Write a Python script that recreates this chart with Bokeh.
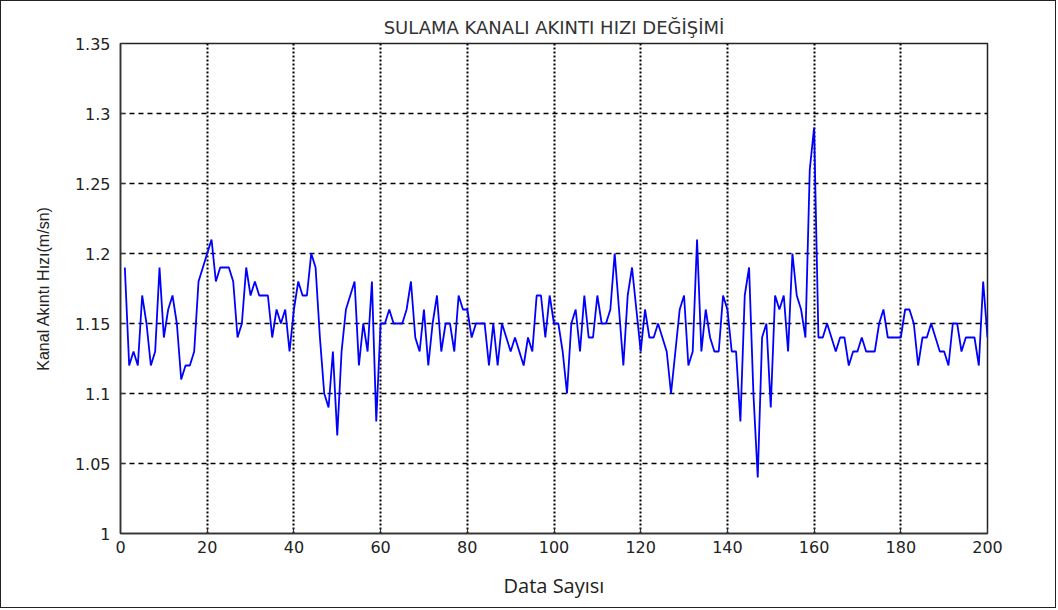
from bokeh.plotting import figure
from bokeh.models import FixedTicker, Range1d
from bokeh.embed import file_html
from bokeh.resources import INLINE

# Measurement index (1..200) and canal flow velocity in m/s
data_index = list(range(1, 201))
velocity = [
    1.19, 1.12, 1.13, 1.12, 1.17, 1.15, 1.12, 1.13, 1.19, 1.14,
    1.16, 1.17, 1.15, 1.11, 1.12, 1.12, 1.13, 1.18, 1.19, 1.20,
    1.21, 1.18, 1.19, 1.19, 1.19, 1.18, 1.14, 1.15, 1.19, 1.17,
    1.18, 1.17, 1.17, 1.17, 1.14, 1.16, 1.15, 1.16, 1.13, 1.16,
    1.18, 1.17, 1.17, 1.20, 1.19, 1.14, 1.10, 1.09, 1.13, 1.07,
    1.13, 1.16, 1.17, 1.18, 1.12, 1.15, 1.13, 1.18, 1.08, 1.15,
    1.15, 1.16, 1.15, 1.15, 1.15, 1.16, 1.18, 1.14, 1.13, 1.16,
    1.12, 1.15, 1.17, 1.13, 1.15, 1.15, 1.13, 1.17, 1.16, 1.16,
    1.14, 1.15, 1.15, 1.15, 1.12, 1.15, 1.12, 1.15, 1.14, 1.13,
    1.14, 1.13, 1.12, 1.14, 1.13, 1.17, 1.17, 1.14, 1.17, 1.15,
    1.15, 1.13, 1.10, 1.15, 1.16, 1.13, 1.17, 1.14, 1.14, 1.17,
    1.15, 1.15, 1.16, 1.20, 1.16, 1.12, 1.17, 1.19, 1.16, 1.13,
    1.16, 1.14, 1.14, 1.15, 1.14, 1.13, 1.10, 1.13, 1.16, 1.17,
    1.12, 1.13, 1.21, 1.13, 1.16, 1.14, 1.13, 1.13, 1.17, 1.16,
    1.13, 1.13, 1.08, 1.17, 1.19, 1.10, 1.04, 1.14, 1.15, 1.09,
    1.17, 1.16, 1.17, 1.13, 1.20, 1.17, 1.16, 1.14, 1.26, 1.29,
    1.14, 1.14, 1.15, 1.14, 1.13, 1.14, 1.14, 1.12, 1.13, 1.13,
    1.14, 1.13, 1.13, 1.13, 1.15, 1.16, 1.14, 1.14, 1.14, 1.14,
    1.16, 1.16, 1.15, 1.12, 1.14, 1.14, 1.15, 1.14, 1.13, 1.13,
    1.12, 1.15, 1.15, 1.13, 1.14, 1.14, 1.14, 1.12, 1.18, 1.14,
]

x_ticks = [0, 20, 40, 60, 80, 100, 120, 140, 160, 180, 200]
y_ticks = [1.0, 1.05, 1.1, 1.15, 1.2, 1.25, 1.3, 1.35]
y_tick_labels = ["1", "1.05", "1.1", "1.15", "1.2", "1.25", "1.3", "1.35"]

TICK_FONT = "DejaVu Sans"

p = figure(
    width=1056, height=608,
    output_backend="svg", toolbar_location=None,
    x_range=Range1d(0, 200), y_range=Range1d(1.0, 1.35),
    min_border_left=119, min_border_right=70,
    min_border_top=42, min_border_bottom=76,
    background_fill_color="white", border_fill_color="white",
)
p.styles = {"border": "1px solid #222222"}

# title
p.title.text = "SULAMA KANALI AKINTI HIZI DEĞİŞİMİ"
p.title.align = "center"
p.title.text_font = "DejaVu Sans"
p.title.text_font_size = "18px"
p.title.text_font_style = "normal"
p.title.text_color = "#333333"
p.title.standoff = 11

# axes
for ax in (p.xaxis[0], p.yaxis[0]):
    ax.axis_line_color = "#333333"
    ax.axis_line_width = 1.5
    ax.major_tick_in = 5
    ax.major_tick_out = 0
    ax.major_tick_line_color = "#333333"
    ax.minor_tick_line_color = None
    ax.major_label_text_font = TICK_FONT
    ax.major_label_text_font_size = "16px"
    ax.major_label_text_color = "#222222"

p.xaxis.ticker = FixedTicker(ticks=x_ticks)
p.xaxis.major_label_standoff = 7
p.xaxis.axis_label = "Data Sayısı"
p.xaxis.axis_label_text_font = "Open Sans"
p.xaxis.axis_label_text_font_size = "20px"
p.xaxis.axis_label_text_font_style = "normal"
p.xaxis.axis_label_text_color = "#222222"
p.xaxis.axis_label_standoff = 16

p.yaxis.ticker = FixedTicker(ticks=y_ticks)
p.yaxis.major_label_overrides = dict(zip(y_ticks, y_tick_labels))
p.yaxis.major_label_standoff = 10
p.yaxis.axis_label = "Kanal Akıntı Hızı(m/sn)"
p.yaxis.axis_label_text_font = "Liberation Sans"
p.yaxis.axis_label_text_font_size = "16px"
p.yaxis.axis_label_text_font_style = "normal"
p.yaxis.axis_label_text_color = "#222222"
p.yaxis.axis_label_standoff = 20

# frame and grid
p.outline_line_color = "#222222"
p.outline_line_width = 1.5

p.xgrid.ticker = FixedTicker(ticks=x_ticks)
p.xgrid.grid_line_color = "black"
p.xgrid.grid_line_width = 2
p.xgrid.grid_line_dash = "2 2"

p.ygrid.ticker = FixedTicker(ticks=y_ticks)
p.ygrid.grid_line_color = "black"
p.ygrid.grid_line_width = 1.3
p.ygrid.grid_line_dash = "5 4"

p.line(data_index, velocity, line_color="#0000ff", line_width=1.8)

open("out.html", "w").write(file_html(p, INLINE))
